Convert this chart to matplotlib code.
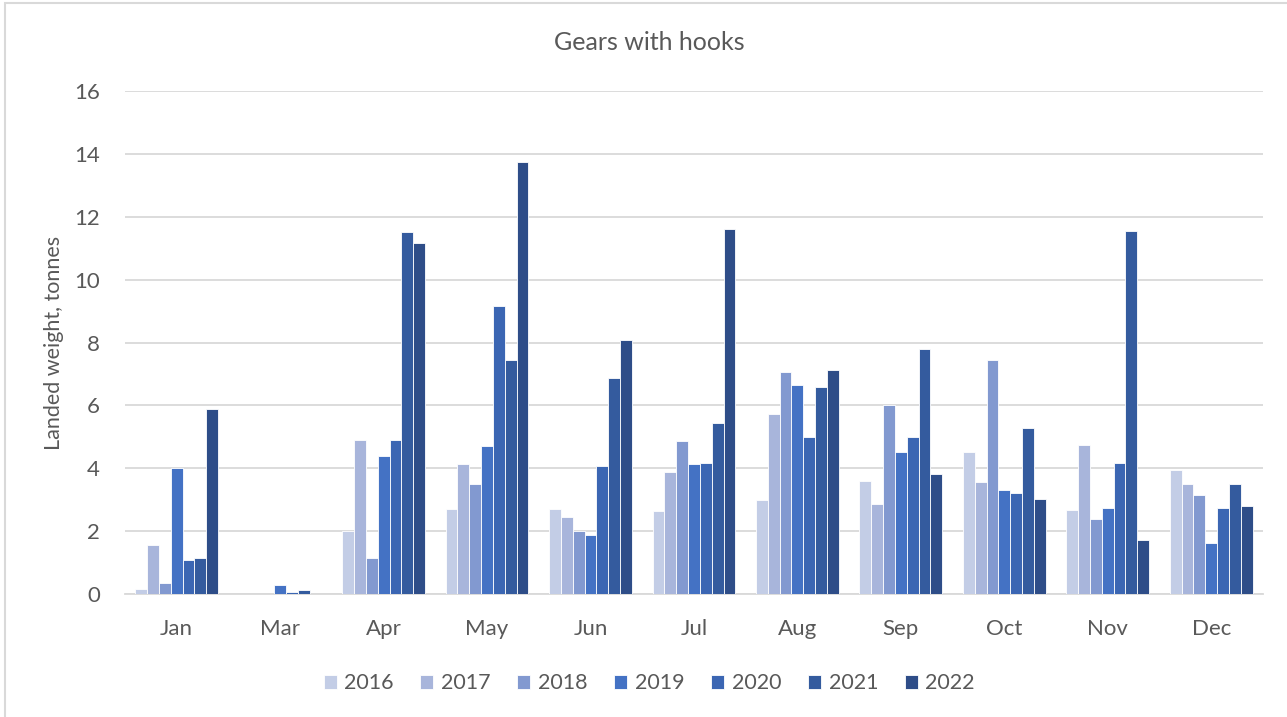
import matplotlib
matplotlib.use("Agg")
import matplotlib.pyplot as plt
import numpy as np
from matplotlib.patches import Rectangle

plt.rcParams['font.family'] = ['Lato', 'DejaVu Sans']

months = ["Jan", "Mar", "Apr", "May", "Jun", "Jul", "Aug", "Sep", "Oct", "Nov", "Dec"]
years = ["2016", "2017", "2018", "2019", "2020", "2021", "2022"]

w2016 = [0.17, 0.0, 1.99, 2.69, 2.69, 2.64, 2.98, 3.61, 4.52, 2.68, 3.96]
w2017 = [1.55, 0.0, 4.91, 4.13, 2.45, 3.89, 5.72, 2.87, 3.55, 4.74, 3.49]
w2018 = [0.35, 0.0, 1.15, 3.49, 2.00, 4.86, 7.05, 6.01, 7.45, 2.39, 3.15]
w2019 = [4.01, 0.29, 4.40, 4.70, 1.88, 4.12, 6.65, 4.53, 3.32, 2.74, 1.61]
w2020 = [1.09, 0.06, 4.91, 9.17, 4.06, 4.18, 4.98, 4.98, 3.21, 4.18, 2.74]
w2021 = [1.15, 0.12, 11.53, 7.45, 6.87, 5.44, 6.59, 7.79, 5.27, 11.56, 3.49]
w2022 = [5.89, 0.0, 11.16, 13.74, 8.07, 11.62, 7.11, 3.83, 3.03, 1.72, 2.81]

series = [w2016, w2017, w2018, w2019, w2020, w2021, w2022]
colors = ["#C3CDE6", "#A8B5DB", "#8299D0", "#4472C4", "#3B66B3", "#345B9E", "#2E4D88"]

fig = plt.figure(figsize=(12.87, 7.17), dpi=100)
ax = fig.add_axes([0.0971, 0.1715, 0.8842, 0.7016])

# outer chart frame
fig.patches.append(Rectangle((5 / 1287, -0.05), 1.2, 1 - 3 / 717 + 0.05,
                             transform=fig.transFigure, fill=False,
                             edgecolor="#D9D9D9", linewidth=1.5, zorder=0))

x = np.arange(len(months))
n = len(series)
group = 0.80
bw = group / n
for i, (vals, col, yr) in enumerate(zip(series, colors, years)):
    offs = -group / 2 + bw * (i + 0.5)
    ax.bar(x + offs, vals, width=bw, color=col, edgecolor="white",
           linewidth=0.6, label=yr, zorder=3)

ax.set_xlim(-0.5, len(months) - 0.5)
ax.set_ylim(0, 16)
ax.set_yticks(np.arange(0, 17, 2))
ax.set_xticks(x)
ax.set_xticklabels(months)
ax.tick_params(axis="both", length=0, labelsize=16, colors="#595959")
ax.tick_params(axis="y", pad=18)
ax.tick_params(axis="x", pad=18)
ax.grid(axis="y", color="#D9D9D9", linewidth=1.3, zorder=0)
ax.set_axisbelow(True)
for s in ["top", "right", "left"]:
    ax.spines[s].set_visible(False)
ax.spines["bottom"].set_color("#D9D9D9")
ax.spines["bottom"].set_linewidth(1.3)

ax.set_ylabel("Landed weight, tonnes", fontsize=15.5, color="#595959", labelpad=7)
fig.text(0.5045, 0.941, "Gears with hooks", ha="center", va="center",
         fontsize=18, color="#595959")

leg = fig.legend(loc="center", bbox_to_anchor=(0.5045, 0.047), ncol=7,
                 frameon=False, fontsize=15.5, handlelength=0.6, handleheight=0.6,
                 handletextpad=0.35, columnspacing=1.25)
for t in leg.get_texts():
    t.set_color("#595959")

fig.savefig("out.png", dpi=100)
